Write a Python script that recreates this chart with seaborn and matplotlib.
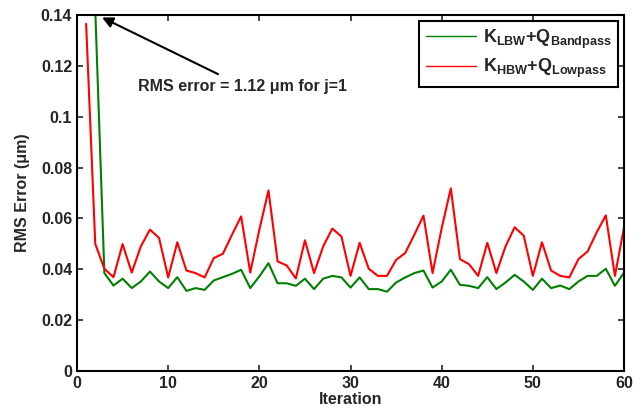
import pandas as pd
import matplotlib
matplotlib.use('Agg')
import matplotlib.pyplot as plt
from matplotlib.ticker import FuncFormatter
import seaborn as sns

# Dados
iteracao = list(range(1, 61))
erro_lbw = [
    1.12, 0.142, 0.0385, 0.0336, 0.0363, 0.0326, 0.0352, 0.0391, 0.0352, 0.0326,
    0.0369, 0.0315, 0.0326, 0.0319, 0.0356, 0.0369, 0.0382, 0.0398, 0.0326, 0.0372,
    0.0424, 0.0345, 0.0345, 0.0335, 0.0363, 0.0322, 0.0363, 0.0374, 0.0368, 0.0328,
    0.0368, 0.0322, 0.0322, 0.0312, 0.0348, 0.0368, 0.0385, 0.0395, 0.0328, 0.0352,
    0.0398, 0.0339, 0.0335, 0.0326, 0.0369, 0.0322, 0.0348, 0.0378, 0.0352, 0.0319,
    0.0363, 0.0326, 0.0336, 0.0322, 0.0352, 0.0374, 0.0374, 0.0402, 0.0335, 0.0387
]
erro_hbw = [
    0.1365, 0.0500, 0.0402, 0.0369, 0.0499, 0.0387, 0.0490, 0.0556, 0.0523, 0.0368,
    0.0506, 0.0395, 0.0385, 0.0368, 0.0444, 0.0461, 0.0536, 0.0608, 0.0387, 0.0556,
    0.0710, 0.0431, 0.0415, 0.0364, 0.0514, 0.0385, 0.0490, 0.0560, 0.0529, 0.0374,
    0.0504, 0.0402, 0.0374, 0.0374, 0.0437, 0.0464, 0.0536, 0.0611, 0.0385, 0.0562,
    0.0718, 0.0440, 0.0420, 0.0374, 0.0504, 0.0385, 0.0490, 0.0565, 0.0532, 0.0374,
    0.0506, 0.0395, 0.0374, 0.0368, 0.0440, 0.0470, 0.0545, 0.0612, 0.0374, 0.0565
]
rotulos = [r'$\mathbf{K_{LBW}}$+$\mathbf{Q_{Bandpass}}$',
           r'$\mathbf{K_{HBW}}$+$\mathbf{Q_{Lowpass}}$']

df = pd.DataFrame({
    'Iteration': iteracao * 2,
    'Erro': erro_lbw + erro_hbw,
    'Serie': [rotulos[0]] * 60 + [rotulos[1]] * 60,
})

sns.set_style('ticks')
plt.rcParams['font.family'] = ['Liberation Sans', 'DejaVu Sans']
plt.rcParams['font.weight'] = 'bold'
plt.rcParams['axes.labelweight'] = 'bold'
plt.rcParams['mathtext.fontset'] = 'custom'
plt.rcParams['mathtext.rm'] = 'Liberation Sans:bold'
plt.rcParams['mathtext.bf'] = 'Liberation Sans:bold'
plt.rcParams['mathtext.it'] = 'Liberation Sans:bold'

fig = plt.figure(figsize=(6.44, 4.15), dpi=100)
ax = fig.add_axes([0.1196, 0.106, 0.8494, 0.858])

sns.lineplot(data=df, x='Iteration', y='Erro', hue='Serie', ax=ax,
             palette=['#008000', '#ff0000'], linewidth=1.5)

ax.set_xlim(0, 60)
ax.set_ylim(0, 0.14)
ax.set_xticks(range(0, 61, 10))
ax.set_yticks([0, 0.02, 0.04, 0.06, 0.08, 0.1, 0.12, 0.14])
ax.yaxis.set_major_formatter(FuncFormatter(lambda v, p: '%g' % round(v, 4)))
ax.tick_params(direction='in', top=True, right=True, length=4, width=1.2,
               labelsize=11.5)
for s in ax.spines.values():
    s.set_linewidth(1.5)
    s.set_color('black')

ax.set_xlabel('Iteration', fontsize=11.5, fontweight='bold', labelpad=1)
ax.set_ylabel('RMS Error (\u03bcm)', fontsize=11.5, fontweight='bold',
              labelpad=8)

ax.annotate('RMS error = 1.12 \u03bcm for j=1', xy=(2.75, 0.139),
            xytext=(6.7, 0.112), fontsize=11.5, fontweight='bold',
            va='center', ha='left',
            arrowprops=dict(arrowstyle='-|>', color='black', lw=1.5,
                            mutation_scale=16, shrinkA=2, shrinkB=0))

leg = ax.legend(loc='upper right', fontsize=13, handlelength=2.8,
                handletextpad=0.35, fancybox=False, edgecolor='black',
                framealpha=1, borderaxespad=0.35, labelspacing=0.35,
                borderpad=0.35)
leg.get_frame().set_linewidth(1.5)
for h in leg.get_lines():
    h.set_linewidth(1.0)

plt.savefig('out.png', dpi=100)
